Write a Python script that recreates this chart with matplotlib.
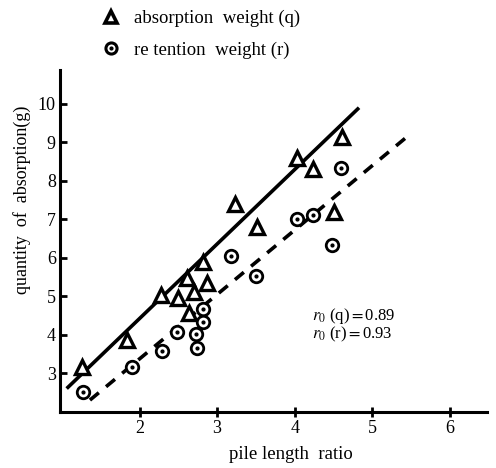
import matplotlib
matplotlib.use("Agg")
import matplotlib.pyplot as plt
from matplotlib.lines import Line2D

# data
q_x = [1.26, 1.84, 2.28, 2.50, 2.61, 2.70, 2.64, 2.82, 2.87, 3.23, 3.51, 4.03, 4.23, 4.61, 4.51]
q_y = [3.16, 3.86, 5.03, 4.95, 5.47, 5.10, 4.56, 5.90, 5.34, 7.40, 6.80, 8.60, 8.30, 9.15, 7.20]
r_x = [1.27, 1.90, 2.29, 2.48, 2.73, 2.74, 2.82, 2.82, 3.18, 3.50, 4.03, 4.24, 4.48, 4.60]
r_y = [2.51, 3.16, 3.57, 4.07, 4.01, 3.65, 4.66, 4.32, 6.04, 5.52, 7.00, 7.10, 6.32, 8.32]
fit_q_x = [1.06, 4.83]
fit_q_y = [2.60, 9.90]
fit_r_x = [1.36, 5.44]
fit_r_y = [2.30, 9.13]
x_ticks = [2, 3, 4, 5, 6]
y_ticks = [3, 4, 5, 6, 7, 8, 9, 10]

plt.rcParams['font.family'] = ['Liberation Serif', 'DejaVu Serif']
plt.rcParams['mathtext.fontset'] = 'stix'

fig = plt.figure(figsize=(4.96, 4.68), dpi=100)
ax = fig.add_axes([60/496, 1-412/468, (487-60)/496, (412-70)/468])
ax.set_xlim(0.974, 6.48)
ax.set_ylim(1.99, 10.88)

ax.plot(fit_q_x, fit_q_y, color='black', lw=2.6, solid_capstyle='butt')
ax.plot(fit_r_x, fit_r_y, color='black', lw=2.6, ls=(0, (3.2, 2.6)))

ax.plot(q_x, q_y, ls='none', marker='^', ms=10.5, mfc='white', mec='black', mew=2.4)
ax.plot(r_x, r_y, ls='none', marker='o', ms=9, mfc='white', mec='black', mew=2.0)
ax.plot(r_x, r_y, ls='none', marker='o', ms=2, mfc='black', mec='black')

for s in ['top', 'right']:
    ax.spines[s].set_visible(False)
for s in ['left', 'bottom']:
    ax.spines[s].set_linewidth(2.2)

ax.set_xticks(x_ticks)
ax.set_yticks(y_ticks)
ax.set_xticklabels([str(v) for v in x_ticks])
ax.set_yticklabels([str(v) for v in y_ticks])
ax.tick_params(axis='x', direction='inout', length=7, width=2, labelsize=13, pad=2)
ax.tick_params(axis='y', direction='in', length=5, width=2, labelsize=13, pad=3)

ax.set_xlabel('pile length  ratio', fontsize=13.5)
ax.xaxis.set_label_coords(0.54, -0.1)
ax.set_ylabel('quantity  of  absorption(g)', fontsize=13)
ax.yaxis.set_label_coords(-0.068, 0.62)

ax.text(0.59, 0.281, r'$r_0$ (q)$=$0.89', transform=ax.transAxes, fontsize=12, va='center')
ax.text(0.59, 0.228, r'$r_0$ (r)$=$0.93', transform=ax.transAxes, fontsize=12, va='center')

h1 = Line2D([], [], ls='none', marker='^', ms=9, mfc='white', mec='black', mew=2.6)
h2a = Line2D([], [], ls='none', marker='o', ms=8, mfc='white', mec='black', mew=2.2)
h2b = Line2D([], [], ls='none', marker='o', ms=2, mfc='black', mec='black')
fig.legend([h1, (h2a, h2b)], ['absorption  weight (q)', 're tention  weight (r)'],
           loc='upper left', bbox_to_anchor=(83/496, 1.015), frameon=False,
           fontsize=13.5, handlelength=1.2, handletextpad=0.6, labelspacing=0.75)

fig.savefig('out.png', dpi=100)
